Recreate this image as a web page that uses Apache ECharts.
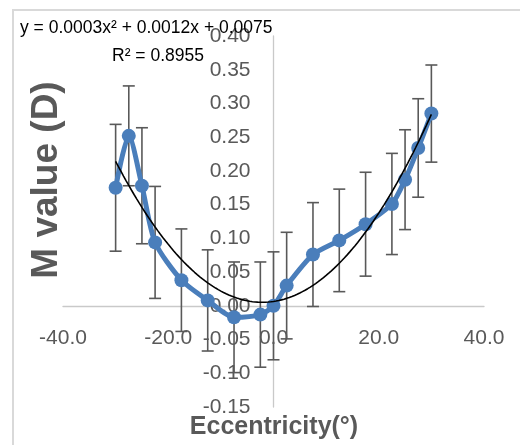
<!DOCTYPE html>
<html><head><meta charset="utf-8">
<script src="https://cdn.jsdelivr.net/npm/echarts@6/dist/echarts.min.js"></script>
<style>html,body{margin:0;padding:0;background:#fff}#c{width:520px;height:445px}</style>
</head><body><div id="c"></div>
<script>
// Data
const eccentricity = [-30, -27.5, -25, -22.5, -17.5, -12.5, -7.5, -2.5, 0, 2.5, 7.5, 12.5, 17.5, 22.5, 25, 27.5, 30];
const mValue = [0.175, 0.252, 0.178, 0.094, 0.038, 0.008, -0.017, -0.013, 0.000, 0.030, 0.076, 0.097, 0.121, 0.151, 0.187, 0.234, 0.285];
const errorBar = [0.094, 0.074, 0.086, 0.083, 0.076, 0.075, 0.082, 0.078, 0.080, 0.079, 0.077, 0.076, 0.077, 0.075, 0.074, 0.073, 0.072];
const xTicks = [-40, -20, 0, 20, 40];
const yTicks = [-0.15, -0.10, -0.05, 0.00, 0.05, 0.10, 0.15, 0.20, 0.25, 0.30, 0.35, 0.40];
const equationText = 'y = 0.0003x² + 0.0012x + 0.0075';
const r2Text = 'R² = 0.8955';
const xTitle = 'Eccentricity(°)';
const yTitle = 'M value (D)';

// least-squares quadratic trendline fitted to the data (as Excel does)
function polyFit2(xs, ys) {
  let n = xs.length, s1 = 0, s2 = 0, s3 = 0, s4 = 0, t0 = 0, t1 = 0, t2 = 0;
  for (let i = 0; i < n; i++) {
    const x = xs[i], y = ys[i];
    s1 += x; s2 += x * x; s3 += x * x * x; s4 += x * x * x * x;
    t0 += y; t1 += x * y; t2 += x * x * y;
  }
  const M = [[s4, s3, s2], [s3, s2, s1], [s2, s1, n]];
  const V = [t2, t1, t0];
  const det = m => m[0][0] * (m[1][1] * m[2][2] - m[1][2] * m[2][1]) - m[0][1] * (m[1][0] * m[2][2] - m[1][2] * m[2][0]) + m[0][2] * (m[1][0] * m[2][1] - m[1][1] * m[2][0]);
  const D = det(M);
  const res = [];
  for (let k = 0; k < 3; k++) {
    const Mk = M.map((row, r) => row.map((v, c) => c === k ? V[r] : v));
    res.push(det(Mk) / D);
  }
  return res; // a, b, c
}
const [qa, qb, qc] = polyFit2(eccentricity, mValue);
const trend = [];
const xMinD = Math.min(...eccentricity), xMaxD = Math.max(...eccentricity);
for (let i = 0; i <= 120; i++) {
  const x = xMinD + (xMaxD - xMinD) * i / 120;
  trend.push([x, qa * x * x + qb * x + qc]);
}

const points = eccentricity.map((x, i) => [x, mValue[i]]);
const errData = eccentricity.map((x, i) => [x, mValue[i] - errorBar[i], mValue[i] + errorBar[i]]);

// grid geometry
const W = 520, H = 445;
const gLeft = 63, gRight = 36, gTop = 36, gBottom = 38;
const gW = W - gLeft - gRight, gH = H - gTop - gBottom;
const xMin = xTicks[0], xMax = xTicks[xTicks.length - 1];
const yMin = yTicks[0], yMax = yTicks[yTicks.length - 1];
// move axes so they cross at zero (labels follow the axis lines)
const yAxisOffset = -gW * (0 - xMin) / (xMax - xMin);
const xAxisOffset = -gH * (0 - yMin) / (yMax - yMin);

const labelFont = 'Liberation Sans, Arial, sans-serif';
const chart = echarts.init(document.getElementById('c'), null, { renderer: 'canvas' });
chart.setOption({
  animation: false,
  backgroundColor: '#fff',
  grid: { left: gLeft, right: gRight, top: gTop, bottom: gBottom, containLabel: false, outerBoundsMode: 'none' },
  xAxis: {
    type: 'value', min: xMin, max: xMax, interval: xTicks[1] - xTicks[0],
    position: 'bottom', offset: xAxisOffset,
    axisLine: { show: true, onZero: false, lineStyle: { color: '#C9C9C9', width: 1.3 } },
    axisTick: { show: false },
    splitLine: { show: false },
    axisLabel: { formatter: v => v.toFixed(1), color: '#595959', fontSize: 21, fontFamily: labelFont, margin: 22, hideOverlap: false }
  },
  yAxis: {
    type: 'value', min: yMin, max: yMax, interval: 0.05,
    position: 'left', offset: yAxisOffset,
    axisLine: { show: true, onZero: false, lineStyle: { color: '#C9C9C9', width: 1.3 } },
    axisTick: { show: false },
    splitLine: { show: false },
    axisLabel: { formatter: v => (Math.abs(v) < 1e-9 ? 0 : v).toFixed(2), color: '#595959', fontSize: 21, fontFamily: labelFont, margin: 23, hideOverlap: false }
  },
  series: [
    {
      type: 'custom', z: 3, data: errData, encode: { x: 0, y: [1, 2] },
      renderItem: function (params, api) {
        const x = api.value(0);
        const top = api.coord([x, api.value(2)]);
        const bot = api.coord([x, api.value(1)]);
        const w = 6;
        const st = { stroke: '#595959', lineWidth: 1.6 };
        return {
          type: 'group', children: [
            { type: 'line', shape: { x1: top[0], y1: top[1], x2: bot[0], y2: bot[1] }, style: st },
            { type: 'line', shape: { x1: top[0] - w, y1: top[1], x2: top[0] + w, y2: top[1] }, style: st },
            { type: 'line', shape: { x1: bot[0] - w, y1: bot[1], x2: bot[0] + w, y2: bot[1] }, style: st }
          ]
        };
      }
    },
    {
      type: 'line', z: 4, data: points, smooth: 0.25,
      symbol: 'circle', symbolSize: 14,
      lineStyle: { color: '#4A7EBB', width: 5 },
      itemStyle: { color: '#4A7EBB' }
    },
    {
      type: 'line', z: 5, data: trend, symbol: 'none', smooth: false,
      lineStyle: { color: '#000', width: 1.6 }
    }
  ],
  graphic: [
    { type: 'rect', silent: true, shape: { x: 13, y: 10, width: 540, height: 470 }, style: { fill: 'none', stroke: '#D9D9D9', lineWidth: 2 } },
    { type: 'text', x: 20, y: 28, style: { text: equationText, fontSize: 17.5, fontFamily: labelFont, fill: '#000', verticalAlign: 'middle', align: 'left' }, z: 10 },
    { type: 'text', x: 158, y: 56, style: { text: r2Text, fontSize: 17.5, fontFamily: labelFont, fill: '#000', verticalAlign: 'middle', align: 'center' }, z: 10 },
    { type: 'text', x: 47, y: 180, rotation: Math.PI / 2, style: { text: yTitle, fontSize: 37, fontWeight: 'bold', fontFamily: labelFont, fill: '#595959', align: 'center', verticalAlign: 'middle' } },
    { type: 'text', x: 274, y: 427, style: { text: xTitle, fontSize: 25, fontWeight: 'bold', fontFamily: labelFont, fill: '#595959', align: 'center', verticalAlign: 'middle' } }
  ]
});
</script>
</body></html>
